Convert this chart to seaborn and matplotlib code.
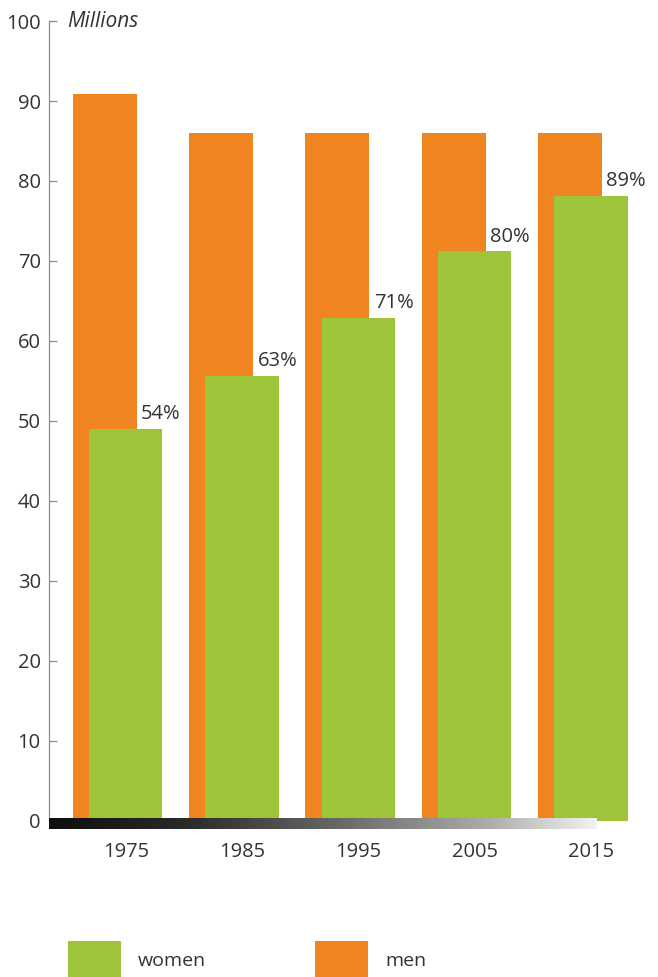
import numpy as np
import pandas as pd
import matplotlib
matplotlib.use("Agg")
import matplotlib.pyplot as plt
from matplotlib.colors import LinearSegmentedColormap
from matplotlib.patches import Patch
import seaborn as sns

# ---- data ----
years = [1975, 1985, 1995, 2005, 2015]
men = [90.9, 86.0, 86.0, 86.0, 86.0]
women = [49.0, 55.6, 62.9, 71.2, 78.1]
pct_labels = ["54%", "63%", "71%", "80%", "89%"]
yticks = [0, 10, 20, 30, 40, 50, 60, 70, 80, 90, 100]

GREEN = "#9dc43b"
ORANGE = "#ef8421"
TEXT = "#333333"

sns.set_theme(style="white")
plt.rcParams["font.family"] = ["Open Sans", "DejaVu Sans"]

fig = plt.figure(figsize=(6.58, 9.77), dpi=100)
ax = fig.add_axes([0.0745, 0.1597, 0.898, 0.8188])

men_offset = 1.8
df_men = pd.DataFrame({"year": np.array(years) - men_offset, "value": men})
df_women = pd.DataFrame({"year": years, "value": women})

sns.barplot(data=df_men, x="year", y="value", native_scale=True, width=0.55,
            color=ORANGE, saturation=1, errorbar=None, ax=ax, zorder=2,
            linewidth=0)
sns.barplot(data=df_women, x="year", y="value", native_scale=True, width=0.63,
            color=GREEN, saturation=1, errorbar=None, ax=ax, zorder=3,
            linewidth=0)

# percentage labels
for yr, v, lab in zip(years, women, pct_labels):
    ax.annotate(lab, xy=(yr + 0.63 * 10 / 2, v), xytext=(-1, 7),
                textcoords="offset points", ha="center", va="baseline",
                fontsize=14.5, color=TEXT, zorder=5)

ax.set_xlim(1968.4, 2019.2)
ax.set_ylim(0, 100)
ax.set_xticks(years)
ax.set_xticklabels([str(y) for y in years], fontsize=14.5, color=TEXT)
ax.set_yticks(yticks)
ax.set_yticklabels([str(t) for t in yticks], fontsize=14.5, color=TEXT)
ax.set_xlabel("")
ax.set_ylabel("")

for s in ["top", "right", "bottom"]:
    ax.spines[s].set_visible(False)
ax.spines["left"].set_color("#8a8a8a")
ax.spines["left"].set_linewidth(0.9)
ax.tick_params(axis="y", direction="in", length=6, width=0.9, color="#8a8a8a",
               pad=6, left=True)
ax.tick_params(axis="x", length=0, pad=15)

# gradient bar along the x-axis
cmap = LinearSegmentedColormap.from_list(
    "grad", [(0, "#0e0e0e"), (0.25, "#2a2a2a"), (0.55, "#6d6d6d"),
             (0.8, "#ababab"), (1.0, "#f2f2f2")])
grad = np.linspace(0, 1, 512).reshape(1, -1)
ax.imshow(grad, cmap=cmap, aspect="auto", extent=(0, 0.927, -0.0105, 0.0025),
          transform=ax.transAxes, clip_on=False, zorder=4)

# units label
ax.text(0.031, 1.0, "Millions", transform=ax.transAxes, fontsize=15,
        style="italic", color=TEXT, va="center", ha="left")

# legend
handles = [Patch(facecolor=GREEN, edgecolor="none", label="women"),
           Patch(facecolor=ORANGE, edgecolor="none", label="men")]
leg = fig.legend(handles=handles, loc="lower left", ncol=2,
                 bbox_to_anchor=(68 / 658, -0.003), frameon=False,
                 fontsize=14, handlelength=2.75, handleheight=2.7,
                 handletextpad=0.85, columnspacing=5.6, borderpad=0,
                 borderaxespad=0)
for t in leg.get_texts():
    t.set_color(TEXT)

fig.savefig("out.png", dpi=100, facecolor="white")
